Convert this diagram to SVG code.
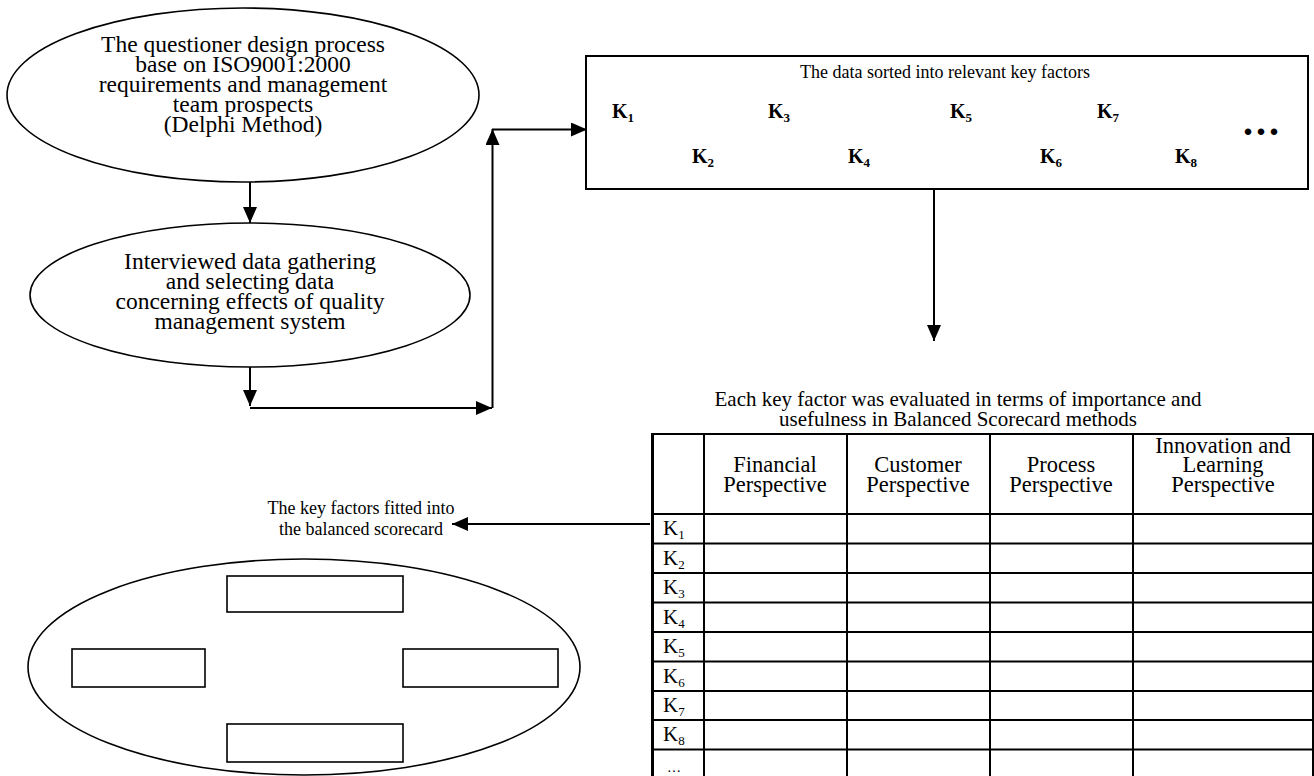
<svg xmlns="http://www.w3.org/2000/svg" width="1314" height="776" viewBox="0 0 1314 776">
<style>
text{font-family:"Liberation Serif","Times New Roman",serif;fill:#000}
.big{font-size:23.5px;text-anchor:middle}
.mid{font-size:18px;text-anchor:middle}
.cap{font-size:21px;text-anchor:middle}
.th{font-size:22.5px;text-anchor:middle}
.kb{font-size:20px;font-weight:bold}
.kt{font-size:21px}
.sub{font-size:13px}
.shape{fill:#fff;stroke:#000;stroke-width:1.6}
.box{fill:#fff;stroke:#000;stroke-width:2}
.conn{fill:none;stroke:#000;stroke-width:2}
.grid{stroke:#000;stroke-width:2}
</style>
<defs>
<marker id="ah" viewBox="0 0 16 14" refX="16" refY="7" markerWidth="16" markerHeight="14" markerUnits="userSpaceOnUse" orient="auto">
<path d="M0,0 L16,7 L0,14 Z" fill="#000"/>
</marker>
</defs>
<rect width="1314" height="776" fill="#fff"/>

<g id="node-questioner">
<ellipse class="shape" cx="243" cy="95" rx="236" ry="87"/>
<text class="big" x="243" y="52">The questioner design process</text>
<text class="big" x="243" y="72">base on ISO9001:2000</text>
<text class="big" x="243" y="92">requirements and management</text>
<text class="big" x="243" y="112">team prospects</text>
<text class="big" x="243" y="132">(Delphi Method)</text>
</g>

<g id="node-interview">
<ellipse class="shape" cx="250" cy="295" rx="220" ry="72"/>
<text class="big" x="250" y="269">Interviewed data gathering</text>
<text class="big" x="250" y="289">and selecting data</text>
<text class="big" x="250" y="309">concerning effects of quality</text>
<text class="big" x="250" y="329">management system</text>
</g>

<g id="node-keyfactors">
<rect class="box" x="586" y="56" width="722" height="133"/>
<text class="mid" x="945" y="78">The data sorted into relevant key factors</text>
<text class="kb" x="612" y="118">K<tspan class="sub" dy="4">1</tspan></text>
<text class="kb" x="768" y="118">K<tspan class="sub" dy="4">3</tspan></text>
<text class="kb" x="950" y="118">K<tspan class="sub" dy="4">5</tspan></text>
<text class="kb" x="1097" y="118">K<tspan class="sub" dy="4">7</tspan></text>
<text class="kb" x="692" y="163">K<tspan class="sub" dy="4">2</tspan></text>
<text class="kb" x="848" y="163">K<tspan class="sub" dy="4">4</tspan></text>
<text class="kb" x="1040" y="163">K<tspan class="sub" dy="4">6</tspan></text>
<text class="kb" x="1175" y="163">K<tspan class="sub" dy="4">8</tspan></text>
<text x="1243" y="135" style="font-size:40px;font-weight:bold;letter-spacing:3px">...</text>
</g>

<g id="node-evaluation">
<text class="cap" x="958" y="406">Each key factor was evaluated in terms of importance and</text>
<text class="cap" x="958" y="426">usefulness in Balanced Scorecard methods</text>
<g id="table">
<rect x="652" y="434" width="661" height="350" fill="#fff" stroke="none"/>
<line class="grid" x1="652" y1="434" x2="1314" y2="434"/>
<line x1="652.5" y1="433" x2="652.5" y2="776" stroke="#000" stroke-width="3"/>
<line class="grid" x1="704" y1="434" x2="704" y2="776"/>
<line class="grid" x1="847" y1="434" x2="847" y2="776"/>
<line class="grid" x1="990" y1="434" x2="990" y2="776"/>
<line class="grid" x1="1133" y1="434" x2="1133" y2="776"/>
<line class="grid" x1="1313" y1="434" x2="1313" y2="776"/>
<line class="grid" x1="652" y1="514" x2="1314" y2="514"/>
<line class="grid" x1="652" y1="543.5" x2="1314" y2="543.5"/>
<line class="grid" x1="652" y1="573" x2="1314" y2="573"/>
<line class="grid" x1="652" y1="602.5" x2="1314" y2="602.5"/>
<line class="grid" x1="652" y1="632" x2="1314" y2="632"/>
<line class="grid" x1="652" y1="661.5" x2="1314" y2="661.5"/>
<line class="grid" x1="652" y1="691" x2="1314" y2="691"/>
<line class="grid" x1="652" y1="720" x2="1314" y2="720"/>
<line class="grid" x1="652" y1="749.5" x2="1314" y2="749.5"/>
<text class="th" x="775" y="472">Financial</text>
<text class="th" x="775" y="492">Perspective</text>
<text class="th" x="918" y="472">Customer</text>
<text class="th" x="918" y="492">Perspective</text>
<text class="th" x="1061" y="472">Process</text>
<text class="th" x="1061" y="492">Perspective</text>
<text class="th" x="1223" y="453">Innovation and</text>
<text class="th" x="1223" y="472">Learning</text>
<text class="th" x="1223" y="492">Perspective</text>
<text class="kt" x="663" y="535">K<tspan class="sub" dy="4">1</tspan></text>
<text class="kt" x="663" y="564.5">K<tspan class="sub" dy="4">2</tspan></text>
<text class="kt" x="663" y="594">K<tspan class="sub" dy="4">3</tspan></text>
<text class="kt" x="663" y="623.5">K<tspan class="sub" dy="4">4</tspan></text>
<text class="kt" x="663" y="653">K<tspan class="sub" dy="4">5</tspan></text>
<text class="kt" x="663" y="682.5">K<tspan class="sub" dy="4">6</tspan></text>
<text class="kt" x="663" y="712">K<tspan class="sub" dy="4">7</tspan></text>
<text class="kt" x="663" y="741">K<tspan class="sub" dy="4">8</tspan></text>
<text class="kt" x="667" y="772" style="font-size:14px">…</text>
</g>
</g>

<g id="node-fitted-label">
<text class="mid" x="361" y="514">The key factors fitted into</text>
<text class="mid" x="361" y="535">the balanced scorecard</text>
</g>

<g id="node-scorecard">
<ellipse class="shape" cx="304" cy="667" rx="276" ry="108"/>
<rect class="shape" x="227" y="576" width="176" height="36"/>
<rect class="shape" x="72" y="649" width="133" height="38"/>
<rect class="shape" x="403" y="649" width="155" height="38"/>
<rect class="shape" x="227" y="724" width="176" height="38"/>
</g>

<g id="connectors">
<line class="conn" x1="250" y1="182" x2="250" y2="223" marker-end="url(#ah)"/>
<line class="conn" x1="250" y1="367" x2="250" y2="406" marker-end="url(#ah)"/>
<line class="conn" x1="250" y1="408" x2="492" y2="408" marker-end="url(#ah)"/>
<line class="conn" x1="492.5" y1="408" x2="492.5" y2="129" marker-end="url(#ah)"/>
<line class="conn" x1="492" y1="129.5" x2="587" y2="129.5" marker-end="url(#ah)"/>
<line class="conn" x1="934" y1="189" x2="934" y2="341" marker-end="url(#ah)"/>
<line class="conn" x1="650" y1="524" x2="452" y2="524" marker-end="url(#ah)"/>
</g>
</svg>
